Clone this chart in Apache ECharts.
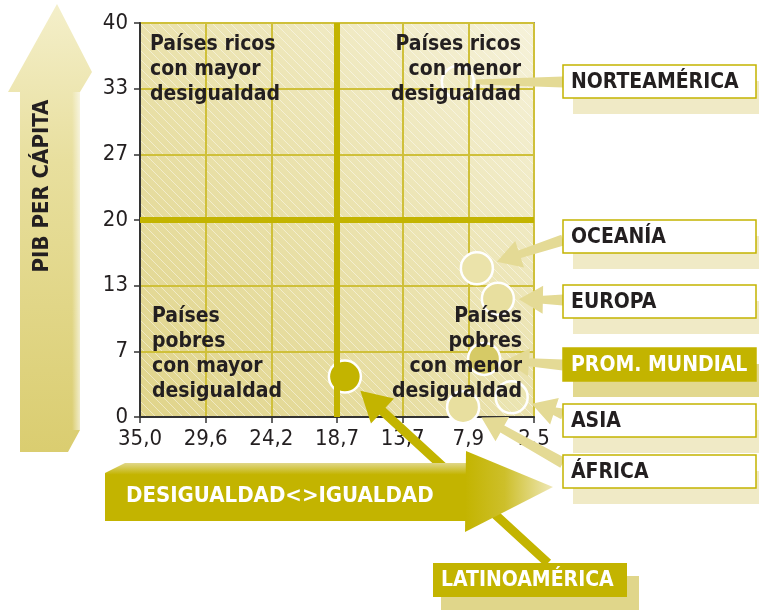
<!DOCTYPE html>
<html>
<head>
<meta charset="utf-8">
<script src="https://cdn.jsdelivr.net/npm/echarts@6/dist/echarts.min.js"></script>
<style>
  html, body { margin: 0; padding: 0; background: #fff; }
  #chart { width: 759px; height: 610px; }
</style>
</head>
<body>
<div id="chart"></div>
<script>
// regions, with position on the inequality axis (in tick steps from 35,0) and GDP per capita
const regions = ['NORTEAMÉRICA', 'OCEANÍA', 'EUROPA', 'PROM. MUNDIAL', 'ASIA', 'ÁFRICA', 'LATINOAMÉRICA']
const inequalityPos = [4.84, 5.13, 5.45, 5.24, 5.66, 4.92, 3.12]
const gdpPerCapita = [34.0, 15.1, 12.0, 5.9, 2.0, 1.0, 4.1]
const xTickLabels = ['35,0', '29,6', '24,2', '18,7', '13,7', '7,9', '2,5']
const yMax = 40
const quadrants = [
  'Países ricos\ncon mayor\ndesigualdad',
  'Países ricos\ncon menor\ndesigualdad',
  'Países\npobres\ncon mayor\ndesigualdad',
  'Países\npobres\ncon menor\ndesigualdad'
]

const FONT = "'DejaVu Sans Condensed', 'Liberation Sans Narrow', sans-serif"
const OLIVE = '#c3b400'
const PALE = '#e4da95'
const INK = '#231f20'

const pointFill = ['rgba(240,234,190,0.3)', '#ebe3aa', '#e8df9f', '#d6ca66', 'rgba(240,234,190,0.3)', '#e8df9f', OLIVE]

const chart = echarts.init(document.getElementById('chart'))

chart.setOption({
  animation: false,
  grid: {
    left: 140, top: 23, width: 394, height: 394,
    show: true, backgroundColor: 'transparent', borderColor: '#3a3a3a', borderWidth: 1.5
  },
  xAxis: {
    type: 'value', min: 0, max: 6, interval: 1,
    axisLine: { lineStyle: { color: '#333', width: 2 } },
    axisTick: { show: true, length: 6, lineStyle: { color: '#333', width: 1.5 } },
    axisLabel: {
      margin: 11, color: INK, fontSize: 22, fontFamily: FONT,
      formatter: v => xTickLabels[Math.round(v)]
    },
    splitLine: { show: true, lineStyle: { color: '#cfc03a', width: 2 } }
  },
  yAxis: {
    type: 'value', min: 0, max: yMax, interval: yMax / 6,
    axisLine: { lineStyle: { color: '#333', width: 2 } },
    axisTick: { show: true, length: 6, lineStyle: { color: '#333', width: 1.5 } },
    axisLabel: {
      margin: 12, color: INK, fontSize: 22, fontFamily: FONT,
      formatter: v => String(Math.round(v))
    },
    splitLine: { show: true, lineStyle: { color: '#cfc03a', width: 2 } }
  },
  series: [
    {
      type: 'line', data: [], z: 1, silent: true,
      markLine: {
        silent: true, symbol: 'none', label: { show: false },
        lineStyle: { color: OLIVE, width: 6, type: 'solid' },
        data: [{ xAxis: 3 }, { yAxis: yMax / 2 }]
      }
    },
    {
      type: 'scatter', z: 3, symbolSize: 32, silent: true,
      itemStyle: { borderColor: '#fff', borderWidth: 2.5, opacity: 1 },
      data: regions.map((name, i) => ({
        name: name,
        value: [inequalityPos[i], gdpPerCapita[i]],
        itemStyle: { color: pointFill[i] }
      }))
    }
  ]
})

// ---- decorations, placed from the chart's own coordinates ----
const topLeft = chart.convertToPixel({ xAxisIndex: 0, yAxisIndex: 0 }, [0, yMax])
const botRight = chart.convertToPixel({ xAxisIndex: 0, yAxisIndex: 0 }, [6, 0])
const plotW = botRight[0] - topLeft[0]
const plotH = botRight[1] - topLeft[1]

// diagonal hatch pattern for the plot background
const hatch = document.createElement('canvas')
hatch.width = 9; hatch.height = 9
const hc = hatch.getContext('2d')
hc.strokeStyle = 'rgba(255,255,255,0.45)'
hc.lineWidth = 1
hc.beginPath()
hc.moveTo(-1, -1); hc.lineTo(10, 10)
hc.stroke()

function arrowPoints(from, to, w0, w1, headLen, headW) {
  const dx = to[0] - from[0], dy = to[1] - from[1]
  const len = Math.sqrt(dx * dx + dy * dy)
  const ux = dx / len, uy = dy / len
  const px = -uy, py = ux
  const bx = to[0] - ux * headLen, by = to[1] - uy * headLen
  if (!headLen) {
    return [
      [from[0] + px * w0 / 2, from[1] + py * w0 / 2],
      [to[0] + px * w1 / 2, to[1] + py * w1 / 2],
      [to[0] - px * w1 / 2, to[1] - py * w1 / 2],
      [from[0] - px * w0 / 2, from[1] - py * w0 / 2]
    ]
  }
  return [
    [from[0] + px * w0 / 2, from[1] + py * w0 / 2],
    [bx + px * w1 / 2, by + py * w1 / 2],
    [bx + px * headW / 2, by + py * headW / 2],
    to,
    [bx - px * headW / 2, by - py * headW / 2],
    [bx - px * w1 / 2, by - py * w1 / 2],
    [from[0] - px * w0 / 2, from[1] - py * w0 / 2]
  ]
}

// label boxes on the right (top of each box)
const boxX = 563, boxW = 193, boxH = 33
const boxTops = [65, 220, 285, 348, 404, 455]
const latinoBox = { x: 433, y: 563, w: 194, h: 34 }
const labelFont = 'bold 21px ' + FONT

const g = []

// plot background: gradient + hatch
g.push({
  type: 'rect', z: -10, silent: true,
  shape: { x: topLeft[0], y: topLeft[1], width: plotW, height: plotH },
  style: {
    fill: new echarts.graphic.LinearGradient(0, 1, 1, 0, [
      { offset: 0, color: '#e0d48a' },
      { offset: 0.55, color: '#ebe3b0' },
      { offset: 1, color: '#f6f2da' }
    ])
  }
})
g.push({
  type: 'rect', z: -9, silent: true,
  shape: { x: topLeft[0], y: topLeft[1], width: plotW, height: plotH },
  style: { fill: { image: hatch, repeat: 'repeat' } }
})

// quadrant captions
g.push({ type: 'text', z: 10, silent: true, style: { text: quadrants[0], x: topLeft[0] + 10, y: 32, font: labelFont, fill: INK, lineHeight: 25, align: 'left', verticalAlign: 'top' } })
g.push({ type: 'text', z: 10, silent: true, style: { text: quadrants[1], x: botRight[0] - 13, y: 32, font: labelFont, fill: INK, lineHeight: 25, align: 'right', verticalAlign: 'top' } })
g.push({ type: 'text', z: 10, silent: true, style: { text: quadrants[2], x: topLeft[0] + 12, y: 304, font: labelFont, fill: INK, lineHeight: 25, align: 'left', verticalAlign: 'top' } })
g.push({ type: 'text', z: 10, silent: true, style: { text: quadrants[3], x: botRight[0] - 12, y: 304, font: labelFont, fill: INK, lineHeight: 25, align: 'right', verticalAlign: 'top' } })

// connectors from boxes to points
const anchors = [
  [boxX, boxTops[0] + 17], [boxX, boxTops[1] + 20], [boxX, boxTops[2] + 15],
  [boxX, boxTops[3] + 17], [boxX, boxTops[4] + 10], [boxX, boxTops[5] + 8],
  [latinoBox.x + 115, latinoBox.y]
]
regions.forEach((name, i) => {
  const c = chart.convertToPixel({ xAxisIndex: 0, yAxisIndex: 0 }, [inequalityPos[i], gdpPerCapita[i]])
  const a = anchors[i]
  const dx = a[0] - c[0], dy = a[1] - c[1]
  const d = Math.sqrt(dx * dx + dy * dy)
  const gap = i === 0 ? 18 : 21
  const tip = [c[0] + dx / d * gap, c[1] + dy / d * gap]
  let pts
  if (i === 0) pts = arrowPoints(a, tip, 11, 5, 0, 0)
  else if (i === 6) pts = arrowPoints(a, tip, 9, 9, 30, 34)
  else pts = arrowPoints(a, tip, 11, 8, 24, 28)
  g.push({
    type: 'polygon', z: 5, silent: true,
    shape: { points: pts },
    style: { fill: i === 6 ? OLIVE : PALE }
  })
})

// right-hand boxes
boxTops.forEach((y, i) => {
  const isAvg = i === 3
  g.push({ type: 'rect', z: 4, silent: true, shape: { x: boxX + 10, y: y + 16, width: boxW, height: boxH }, style: { fill: isAvg ? '#e2d88e' : '#f0eac6' } })
  g.push({ type: 'rect', z: 6, silent: true, shape: { x: boxX, y: y, width: boxW, height: boxH }, style: { fill: isAvg ? OLIVE : '#fff', stroke: OLIVE, lineWidth: 1.5 } })
  g.push({ type: 'text', z: 7, silent: true, style: { text: regions[i], x: boxX + 8, y: y + boxH / 2 + 1, font: labelFont, fill: isAvg ? '#fff' : INK, align: 'left', verticalAlign: 'middle' } })
})
// Latinoamérica box
g.push({ type: 'rect', z: 4, silent: true, shape: { x: latinoBox.x + 8, y: latinoBox.y + 13, width: latinoBox.w + 4, height: latinoBox.h }, style: { fill: '#e0d68a' } })
g.push({ type: 'rect', z: 6, silent: true, shape: { x: latinoBox.x, y: latinoBox.y, width: latinoBox.w, height: latinoBox.h }, style: { fill: OLIVE } })
g.push({ type: 'text', z: 7, silent: true, style: { text: regions[6], x: latinoBox.x + 8, y: latinoBox.y + latinoBox.h / 2 + 1, font: labelFont, fill: '#fff', align: 'left', verticalAlign: 'middle' } })

// vertical arrow: PIB PER CÁPITA
g.push({
  type: 'polygon', z: 2, silent: true,
  shape: { points: [[8, 92], [57, 4], [92, 72], [80, 92], [80, 430], [68, 452], [20, 452], [20, 92]] },
  style: {
    fill: new echarts.graphic.LinearGradient(0, 0, 0, 1, [
      { offset: 0, color: '#f4efca' },
      { offset: 0.35, color: '#e8df9e' },
      { offset: 1, color: '#dacd70' }
    ])
  }
})
g.push({
  type: 'rect', z: 2, silent: true,
  shape: { x: 72, y: 92, width: 8, height: 338 },
  style: {
    fill: new echarts.graphic.LinearGradient(0, 0, 1, 0, [
      { offset: 0, color: 'rgba(255,255,255,0)' },
      { offset: 1, color: 'rgba(255,255,255,0.6)' }
    ])
  }
})
g.push({
  type: 'text', z: 3, silent: true, x: 42, y: 186, rotation: Math.PI / 2,
  style: { text: 'PIB PER CÁPITA', x: 0, y: 0, font: 'bold 22px ' + FONT, fill: INK, align: 'center', verticalAlign: 'middle' }
})

// horizontal arrow: DESIGUALDAD<>IGUALDAD
g.push({
  type: 'polygon', z: 8, silent: true,
  shape: { points: [[105, 473], [125, 463], [470, 463], [470, 521], [105, 521]] },
  style: {
    fill: new echarts.graphic.LinearGradient(0, 0, 0, 1, [
      { offset: 0, color: '#e0d78a' },
      { offset: 0.2, color: OLIVE },
      { offset: 1, color: OLIVE }
    ])
  }
})
g.push({
  type: 'polygon', z: 8, silent: true,
  shape: { points: [[466, 451], [553, 487], [465, 532]] },
  style: {
    fill: new echarts.graphic.LinearGradient(0, 0, 1, 0, [
      { offset: 0, color: OLIVE },
      { offset: 0.45, color: '#cdbf2a' },
      { offset: 1, color: '#efe8b8' }
    ])
  }
})
g.push({
  type: 'text', z: 9, silent: true,
  style: { text: 'DESIGUALDAD<>IGUALDAD', x: 126, y: 496, font: 'bold 22px ' + FONT, fill: '#fff', align: 'left', verticalAlign: 'middle' }
})

chart.setOption({ graphic: { elements: g } })
</script>
</body>
</html>
